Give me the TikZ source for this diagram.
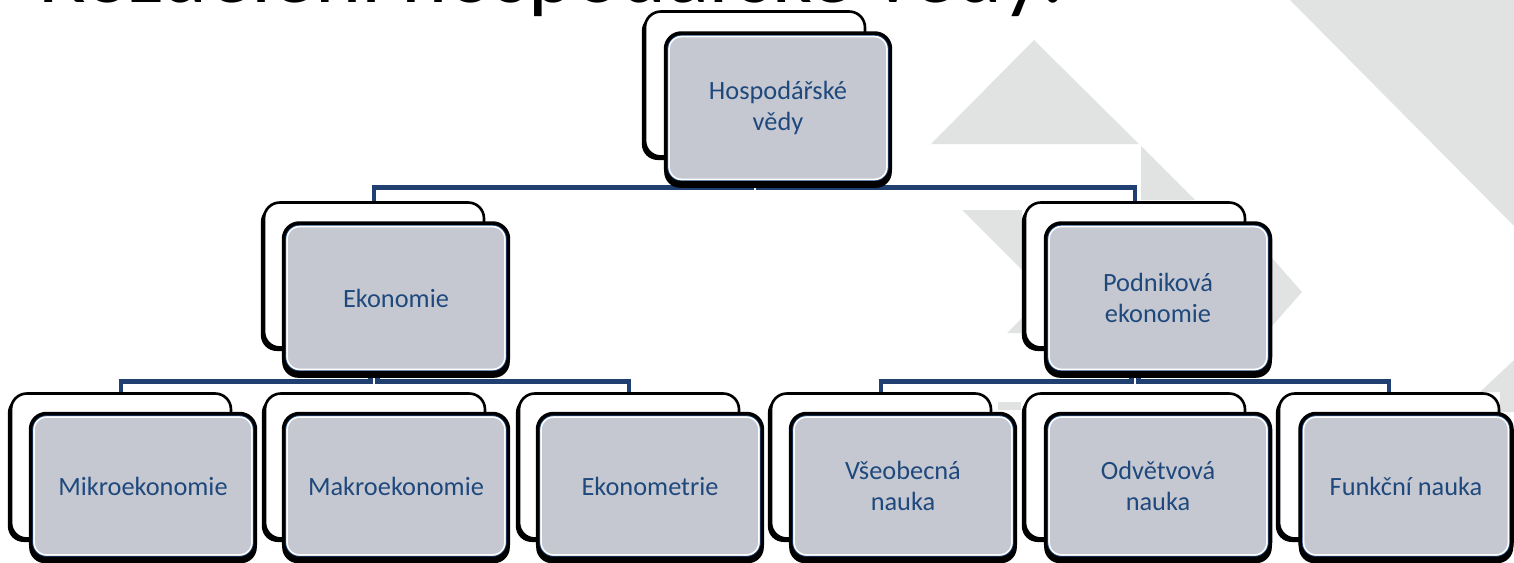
\documentclass[tikz,border=0pt]{standalone}
\usepackage{fontspec}
\setmainfont{Carlito}
\usepackage{tikz}
\usetikzlibrary{calc,shadows}
\definecolor{box_grey}{RGB}{197, 200, 208}
\definecolor{box_text}{RGB}{31, 73, 125}
\definecolor{link_blue}{RGB}{31, 64, 112}
\definecolor{bg_grey}{RGB}{225, 226, 226}
\tikzstyle{bn}=[rectangle,rounded corners=9pt,fill=white,draw=black,
  line width=1.5pt,minimum width=4.4cm,minimum height=2.9cm,
  general shadow={fill=black,shadow xshift=-1.8pt,shadow yshift=-2pt}]
\tikzstyle{fn}=[rectangle,rounded corners=9pt,fill=box_grey,draw=black,
  line width=2pt,minimum width=4.5cm,minimum height=3cm,align=center,
  text=box_text,font=\fontsize{15}{17.6}\selectfont,
  general shadow={fill=black,shadow yshift=-2.2pt,shadow scale=1.012},
  path picture={
    \draw[white,line width=5pt,rounded corners=9pt] (path picture bounding box.south west) rectangle (path picture bounding box.north east);
    \draw[box_text,line width=3pt,rounded corners=9pt] (path picture bounding box.south west) rectangle (path picture bounding box.north east);}]
\tikzstyle{ln}=[draw=link_blue,line width=2.8pt]

\begin{document}
\begin{tikzpicture}[x=0.02cm,y=-0.02cm]
            \useasboundingbox (0, 0) rectangle (1514, 562);
            \fill [bg_grey] (1290, 0) -- (1514, 0) -- (1514, 226) -- cycle;
            \fill [bg_grey] (1034, 40) -- (1139, 144) -- (931, 144) -- cycle;
            \fill [bg_grey] (1141, 146) -- (1195, 200) -- (1141, 200) -- cycle;
            \fill [bg_grey] (962, 210) -- (1022, 210) -- (1022, 270) -- cycle;
            \fill [bg_grey] (1007, 333) -- (1022, 318) -- (1022, 333) -- cycle;
            \fill [bg_grey] (1272, 258) -- (1302, 292) -- (1272, 326) -- cycle;
            \fill [bg_grey] (998, 402) rectangle (1021, 410);
            \fill [bg_grey] (1480, 392) -- (1514, 360) -- (1514, 412) -- (1500, 412) -- (1500, 392) -- cycle;
            \node [anchor=base west,font=\fontsize{50}{60}\selectfont] (t) at (32, 2) {Rozdělení hospodářské vědy:};
            \node [style=bn] (00) at (755, 84) {};
            \node [style=bn] (11) at (374, 275) {};
            \node [style=bn] (22) at (1135, 275) {};
            \node [style=bn] (33) at (121, 466) {};
            \node [style=bn] (44) at (375, 466) {};
            \node [style=bn] (55) at (629, 466) {};
            \node [style=bn] (66) at (881, 466) {};
            \node [style=bn] (77) at (1135, 466) {};
            \node [style=bn] (88) at (1389, 466) {};
            \draw [style=ln] ([xshift=-2.2pt]00.south) -- ++(0, 30) -| (11.north);
            \draw [style=ln] ([xshift=2.2pt]00.south) -- ++(0, 30) -| (22.north);
            \draw [style=ln] ([xshift=-2.2pt]11.south) -- ++(0, 33) -| (33.north);
            \draw [style=ln] ([xshift=2.2pt]11.south) -- ++(0, 33) -| (55.north);
            \draw [style=ln] ([xshift=-2.2pt]22.south) -- ++(0, 33) -| (66.north);
            \draw [style=ln] ([xshift=2.2pt]22.south) -- ++(0, 33) -| (88.north);
            \node [style=fn] (0) at (778, 108) {Hospodářské\\vědy};
            \node [style=fn] (1) at (396, 298) {Ekonomie};
            \node [style=fn] (2) at (1158, 298) {Podniková\\ekonomie};
            \node [style=fn,minimum height=2.9cm] (3) at (143, 486) {Mikroekonomie};
            \node [style=fn,minimum height=2.9cm] (4) at (396, 486) {Makroekonomie};
            \node [style=fn,minimum height=2.9cm] (5) at (650, 486) {Ekonometrie};
            \node [style=fn,minimum height=2.9cm] (6) at (903, 486) {Všeobecná\\nauka};
            \node [style=fn,minimum height=2.9cm] (7) at (1158, 486) {Odvětvová\\nauka};
            \node [style=fn,minimum height=2.9cm,minimum width=4.24cm] (8) at (1406, 486) {Funkční nauka};
    \end{tikzpicture}
\end{document}
